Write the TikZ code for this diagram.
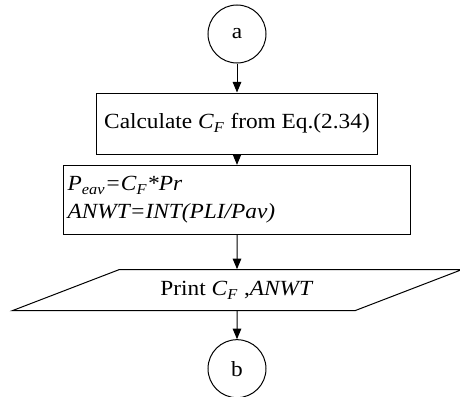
\documentclass[tikz,border=0pt]{standalone}
\usepackage{fontspec}
\setmainfont{Liberation Serif}[FakeStretch=1.08]
\usetikzlibrary{positioning,shapes.geometric,arrows.meta}
\newcommand{\sbx}[1]{\textsubscript{\textit{#1}}}

\begin{document}
\begin{tikzpicture}[line width=0.75pt,font=\fontsize{16.2}{21}\selectfont,
  conn/.style={circle,draw,minimum size=43.5pt,inner sep=0pt},
  procbox/.style={rectangle,draw,minimum height=46pt,inner sep=3pt},
  iobox/.style={trapezium,draw,trapezium left angle=20,trapezium right angle=160,
    trapezium stretches=true,minimum width=337.5pt,minimum height=30.75pt},
  flow/.style={-{Triangle[width=6.5pt,length=8pt]}}]

  \useasboundingbox (-177.75pt,25.5pt) rectangle (167.25pt,-271.5pt);

  \node[conn] (a) at (0,0) {a};

  \node[procbox,minimum width=211pt,below=21.75pt of a] (calc)
    {Calculate \textit{C}\sbx{F} from Eq.(2.34)};

  \node[procbox,minimum width=260pt,minimum height=52pt,text width=254pt,
    align=left,below=7.5pt of calc] (eqs)
    {\itshape P\sbx{eav}=C\sbx{F}*Pr\\ANWT=INT(PLI/Pav)};

  \node[iobox,below=25.5pt of eqs] (prt)
    {Print \textit{C}\sbx{F} ,\textit{ANWT}};

  \node[conn,below=21pt of prt] (b) {b};

  % draw the flow
  \draw[flow] (a) -- (calc);
  \draw[flow] (calc) -- (eqs);
  \draw[flow] (eqs) -- (prt);
  \draw[flow] (prt) -- (b);

\end{tikzpicture}
\end{document}
